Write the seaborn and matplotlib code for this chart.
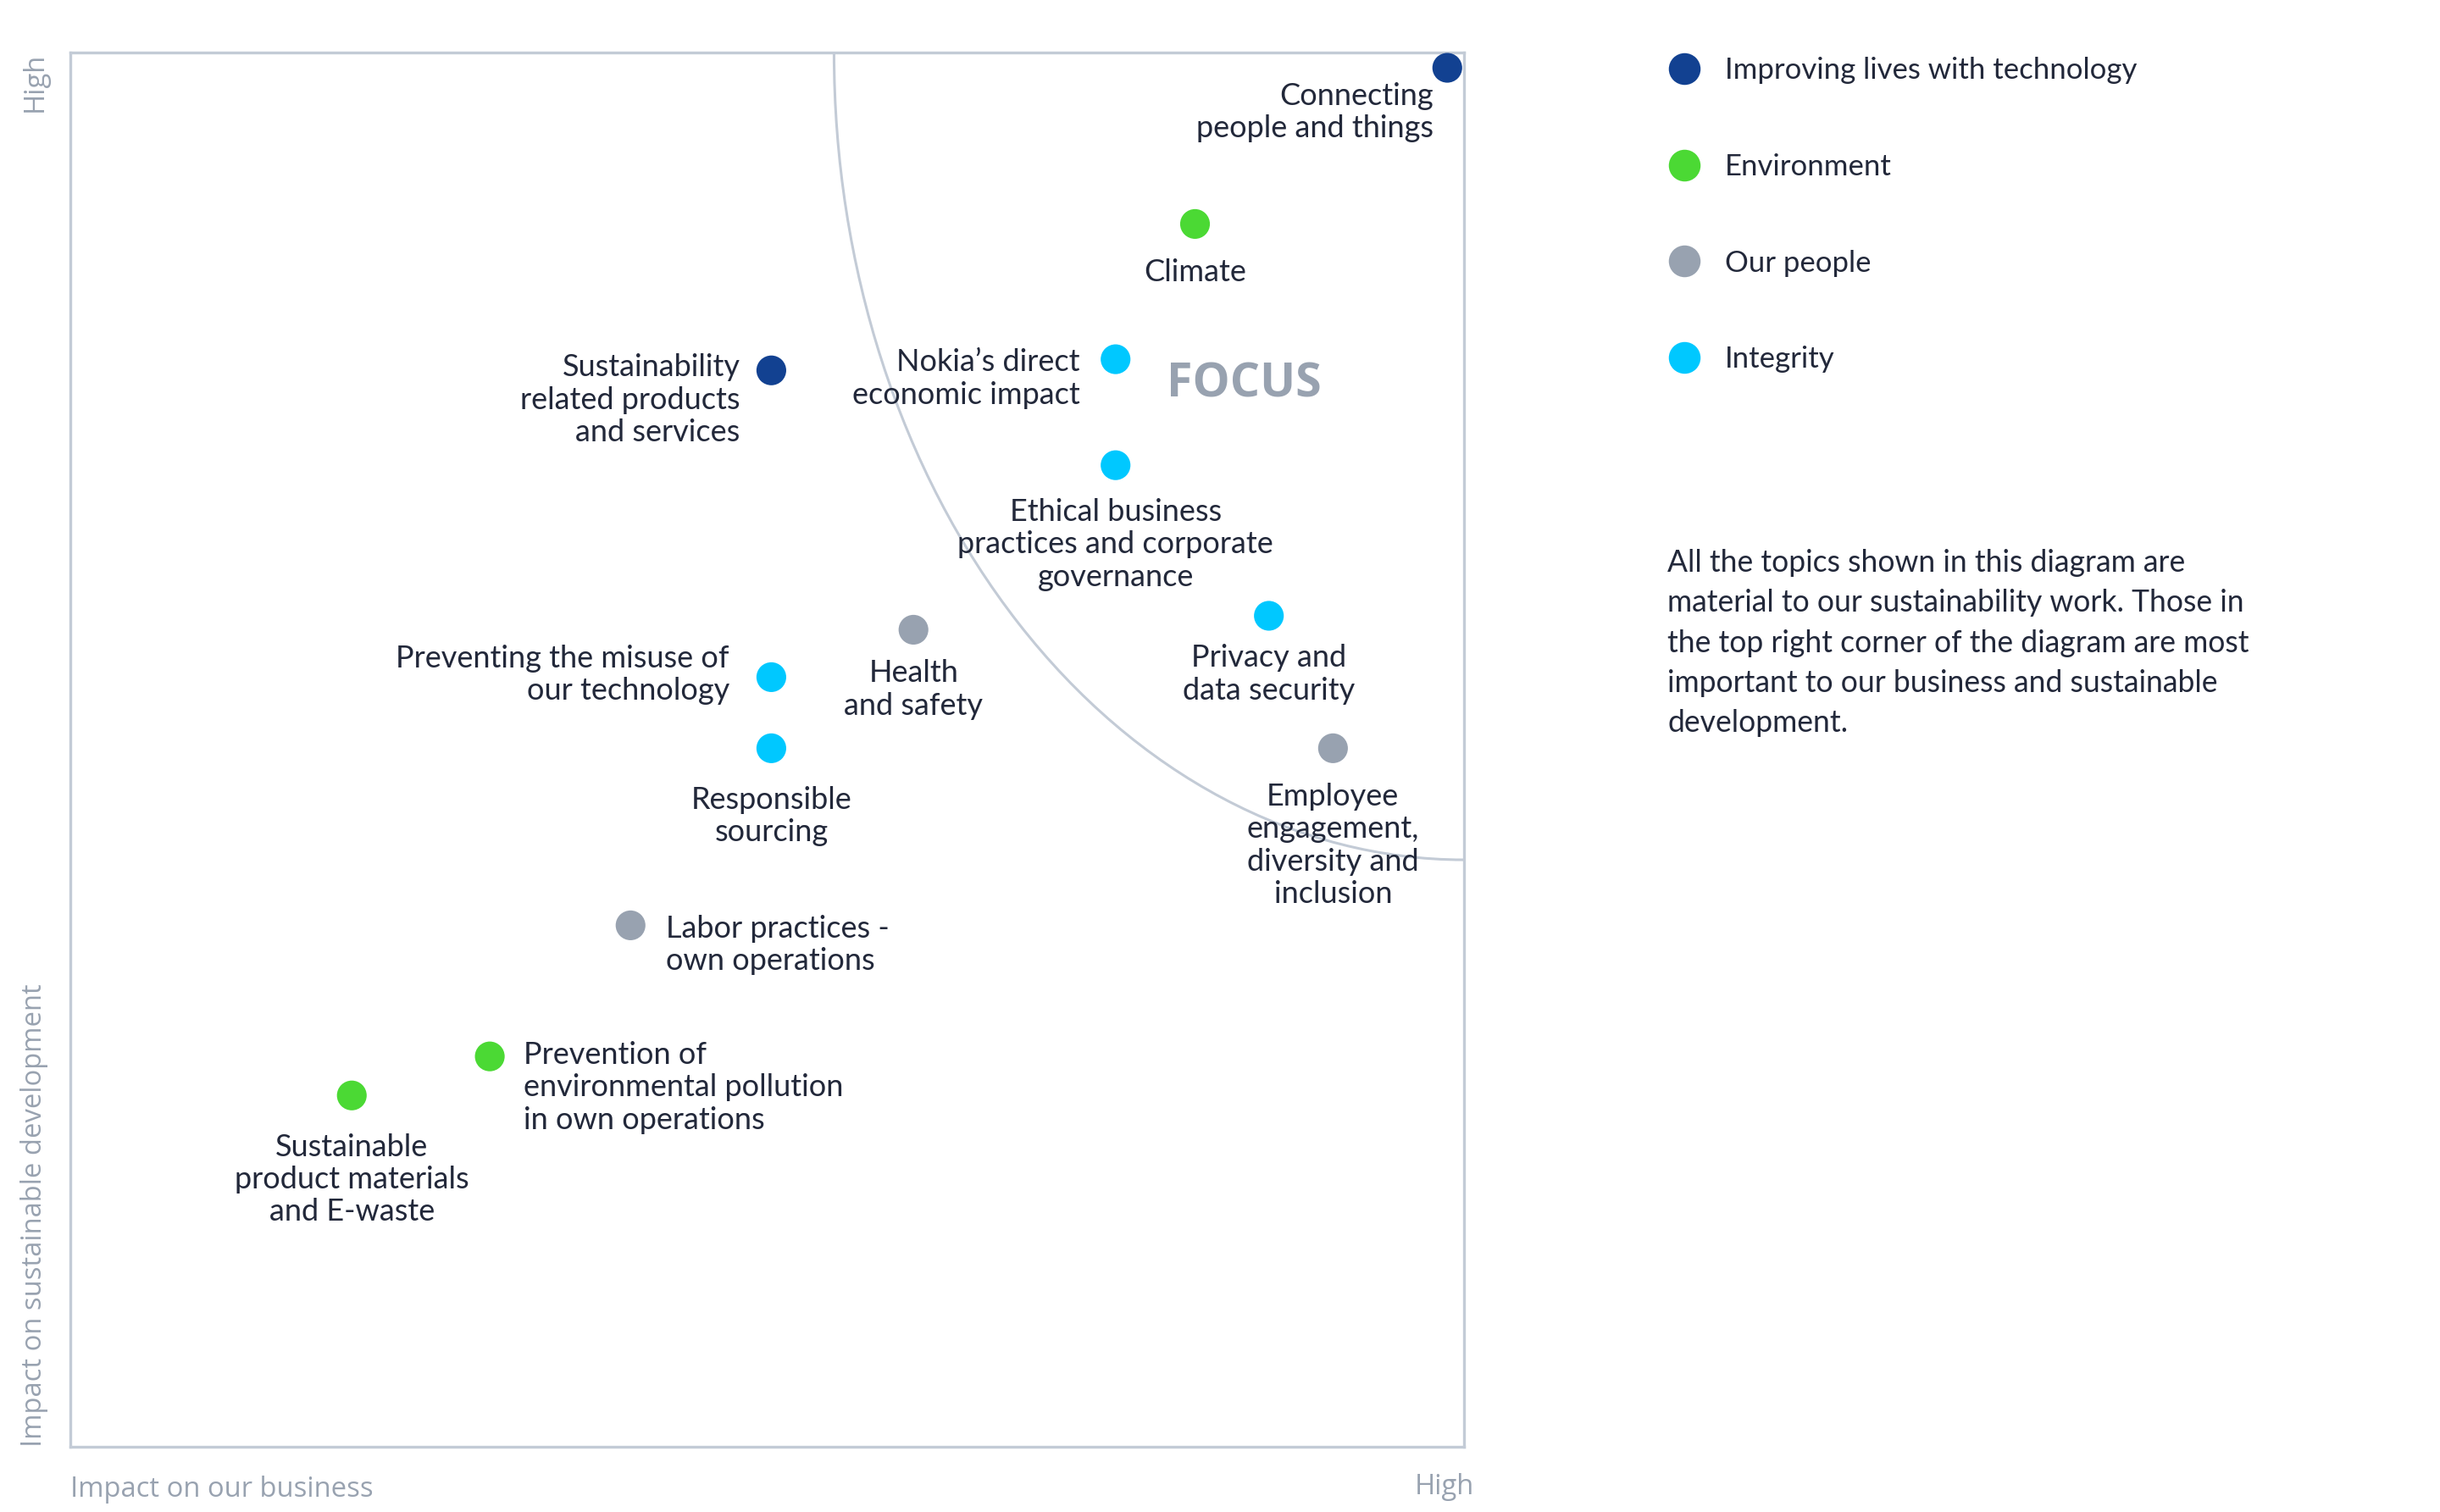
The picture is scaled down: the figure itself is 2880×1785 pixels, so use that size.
import matplotlib
matplotlib.use("Agg")
import matplotlib.pyplot as plt
from matplotlib.lines import Line2D
from matplotlib.patches import Arc
import numpy as np
import pandas as pd
import seaborn as sns

# ── Data ─────────────────────────────────────────────────────────────────────
topics = [
    "Connecting\npeople and things",
    "Climate",
    "Sustainability\nrelated products\nand services",
    "Nokia’s direct\neconomic impact",
    "Ethical business\npractices and corporate\ngovernance",
    "Health\nand safety",
    "Privacy and\ndata security",
    "Preventing the misuse of\nour technology",
    "Responsible\nsourcing",
    "Employee\nengagement,\ndiversity and\ninclusion",
    "Labor practices -\nown operations",
    "Prevention of\nenvironmental pollution\nin own operations",
    "Sustainable\nproduct materials\nand E-waste",
]
business_impact = [98.8, 80.7, 50.3, 75.0, 75.0, 60.5, 86.0, 50.3, 50.3, 90.6, 40.2, 30.1, 20.2]
sustainability_impact = [98.9, 87.7, 77.2, 78.0, 70.4, 58.6, 59.6, 55.2, 50.1, 50.1, 37.4, 28.0, 25.2]
groups = [
    "Improving lives with technology", "Environment", "Improving lives with technology",
    "Integrity", "Integrity", "Our people", "Integrity", "Integrity", "Integrity",
    "Our people", "Our people", "Environment", "Environment",
]
group_order = ["Improving lives with technology", "Environment", "Our people", "Integrity"]

# focus zone: quarter ellipse anchored in the top-right corner
focus_rx, focus_ry = 45.2, 57.9

note = ("All the topics shown in this diagram are\n"
        "material to our sustainability work. Those in\n"
        "the top right corner of the diagram are most\n"
        "important to our business and sustainable\n"
        "development.")

# ── Style ────────────────────────────────────────────────────────────────────
sns.set_theme(style="white")
plt.rcParams["font.family"] = ["Lato", "DejaVu Sans"]

PALETTE = {
    "Improving lives with technology": "#124191",
    "Environment": "#4BD934",
    "Our people": "#98A2B0",
    "Integrity": "#00C8FF",
}
FRAME = "#C3CBD6"
MUTED = "#98A2B0"
INK = "#22283A"
CAPTION_FONT = ["Open Sans", "DejaVu Sans"]

# label placement (offset in points, horizontal alignment)
LABEL_POS = [
    (-6, -18.8, "right"), (0, -20.5, "center"), (-13.2, -12.6, "right"),
    (-15.2, -8.3, "right"), (0, -33.7, "center"), (0, -25.4, "center"),
    (0, -24.8, "center"), (-17.8, 1.0, "right"), (0, -28.8, "center"),
    (0, -41.3, "center"), (15.2, -8.3, "left"), (14.5, -13.2, "left"),
    (0, -35.7, "center"),
]

df = pd.DataFrame({"topic": topics, "business": business_impact,
                   "sustainability": sustainability_impact, "group": groups})

fig = plt.figure(figsize=(14.4, 8.925), dpi=200)
ax = fig.add_axes([0.0288, 0.0431, 0.5712, 0.9222])

sns.scatterplot(data=df, x="business", y="sustainability", hue="group",
                hue_order=group_order, palette=PALETTE, s=160, linewidth=0,
                legend=False, ax=ax, zorder=3)

ax.set_xlim(0, 100)
ax.set_ylim(0, 100)
ax.set_xticks([])
ax.set_yticks([])
ax.set_xlabel("")
ax.set_ylabel("")
for sp in ax.spines.values():
    sp.set_color(FRAME)
    sp.set_linewidth(1.2)

ax.add_patch(Arc((100, 100), 2 * focus_rx, 2 * focus_ry, theta1=180, theta2=270,
                 color=FRAME, linewidth=1.1, zorder=1))

for (name, x, y), (dx, dy, ha) in zip(
        zip(df["topic"], df["business"], df["sustainability"]), LABEL_POS):
    ax.annotate(name, (x, y), xytext=(dx, dy), textcoords="offset points",
                ha=ha, va="center", fontsize=13.0, color=INK,
                linespacing=1.2, zorder=4)

ax.text(84.2, 76.2, "FOCUS", ha="center", va="center", fontsize=20,
        fontweight="bold", color=MUTED, family=CAPTION_FONT)

# axis captions
fig.text(0.0288, 0.0055, "Impact on our business", ha="left", va="bottom",
         fontsize=11.8, color=MUTED, family=CAPTION_FONT)
fig.text(0.604, 0.0075, "High", ha="right", va="bottom",
         fontsize=11.8, color=MUTED, family=CAPTION_FONT)
fig.text(0.0142, 0.0431, "Impact on sustainable development", rotation=90,
         ha="center", va="bottom", fontsize=11.8, color=MUTED,
         family=CAPTION_FONT)
fig.text(0.0142, 0.9653, "High", rotation=90, ha="center", va="top",
         fontsize=11.8, color=MUTED, family=CAPTION_FONT)

# legend
handles = [Line2D([], [], marker="o", linestyle="", markersize=13.5,
                  markerfacecolor=PALETTE[g], markeredgewidth=0) for g in group_order]
leg = fig.legend(handles, group_order, loc="upper left",
                 bbox_to_anchor=(0.677, 0.972), frameon=False, fontsize=12.5,
                 labelspacing=2.35, handletextpad=0.78, borderpad=0, handlelength=1.2)
for t in leg.get_texts():
    t.set_color(INK)

fig.text(0.6835, 0.637, note, ha="left", va="top", fontsize=12.8, color=INK,
         linespacing=1.53)

fig.savefig("out.png", dpi=200)
